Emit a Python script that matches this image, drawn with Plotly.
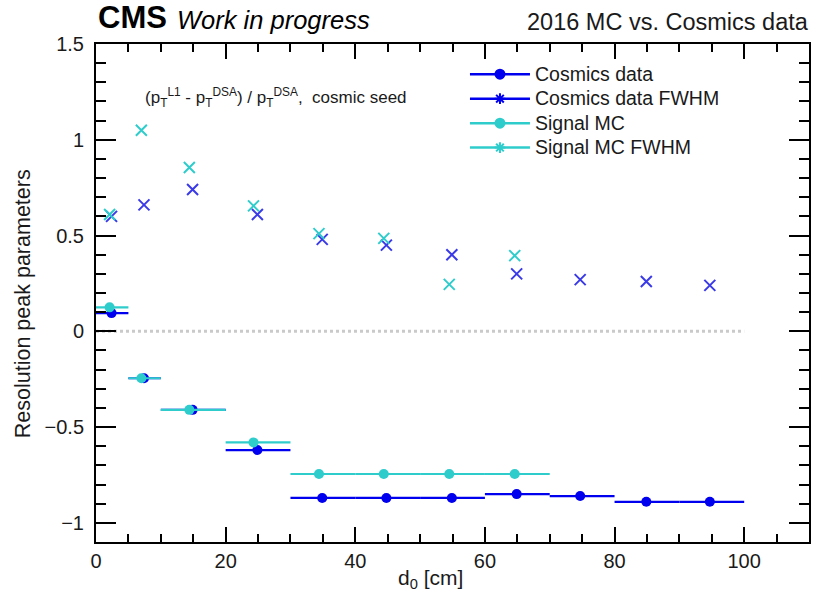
import plotly.graph_objects as go

# ---------------- data ----------------
cosmic_x = [2.4, 7.4, 14.9, 24.9, 34.9, 44.8, 54.9, 64.9, 74.7, 84.9, 94.7]
cosmic_lo = [0, 5, 10, 20, 30, 40, 50, 60, 70, 80, 90]
cosmic_hi = [5, 10, 20, 30, 40, 50, 60, 70, 80, 90, 100]
cosmic_peak = [0.095, -0.245, -0.41, -0.62, -0.87, -0.87, -0.87, -0.85, -0.86, -0.89, -0.89]
cosmic_fwhm = [0.60, 0.66, 0.74, 0.61, 0.48, 0.45, 0.40, 0.30, 0.27, 0.26, 0.24]

signal_x = [2.1, 7.0, 14.4, 24.3, 34.4, 44.4, 54.5, 64.6]
signal_lo = [0, 5, 10, 20, 30, 40, 50, 60]
signal_hi = [5, 10, 20, 30, 40, 50, 60, 70]
signal_peak = [0.125, -0.245, -0.41, -0.58, -0.745, -0.745, -0.745, -0.745]
signal_fwhm = [0.61, 1.05, 0.855, 0.655, 0.51, 0.485, 0.245, 0.395]

ref_line_x = [0, 100]
ref_line_y = [0, 0]

BLUE = "#0000ee"
BLUE_X = "#3a3ae8"
CYAN = "#2fcccc"
FONT = "Liberation Sans, Arial, sans-serif"
TXT = "#1a1a1a"

fig = go.Figure()

# zero reference line
fig.add_trace(go.Scatter(x=ref_line_x, y=ref_line_y, mode="lines",
                         line=dict(color="#cacaca", width=3, dash="dot"),
                         showlegend=False, hoverinfo="skip"))

def add_peak(xs, lo, hi, ys, color):
    fig.add_trace(go.Scatter(
        x=xs, y=ys, mode="markers",
        marker=dict(symbol="circle", size=10, color=color),
        error_x=dict(type="data", symmetric=False,
                     array=[h - x for h, x in zip(hi, xs)],
                     arrayminus=[x - l for l, x in zip(lo, xs)],
                     color=color, thickness=2.2, width=0),
        showlegend=False))

def add_fwhm(xs, ys, color):
    fig.add_trace(go.Scatter(
        x=xs, y=ys, mode="markers",
        marker=dict(symbol="x-thin-open", size=11, color=color,
                    line=dict(color=color, width=2)),
        showlegend=False))

add_fwhm(cosmic_x, cosmic_fwhm, BLUE_X)
add_fwhm(signal_x, signal_fwhm, CYAN)
add_peak(cosmic_x, cosmic_lo, cosmic_hi, cosmic_peak, BLUE)
add_peak(signal_x, signal_lo, signal_hi, signal_peak, CYAN)

# legend proxies
legend_items = [
    ("Cosmics data", BLUE, "circle"),
    ("Cosmics data FWHM", BLUE, "asterisk-open"),
    ("Signal MC", CYAN, "circle"),
    ("Signal MC FWHM", CYAN, "asterisk-open"),
]
for name, col, sym in legend_items:
    fig.add_trace(go.Scatter(
        x=[None], y=[None], mode="lines+markers",
        name='<span style="font-size:19.5px">' + name + '</span>',
        line=dict(color=col, width=2.5),
        marker=dict(symbol=sym, size=9, color=col, line=dict(color=col, width=2))))

axis_common = dict(showgrid=False, zeroline=False, showline=True, linecolor="black",
                   linewidth=2, mirror="ticks", ticks="inside", tickcolor="black",
                   tickwidth=2, tickfont=dict(family=FONT, size=20, color=TXT))

fig.update_xaxes(range=[0, 110], tick0=0, dtick=20, ticklen=15,
                 minor=dict(dtick=5, ticklen=8, ticks="inside", tickwidth=2, tickcolor="black"),
                 **axis_common)
fig.update_yaxes(range=[-1.1, 1.5], tick0=0, dtick=0.5, ticklen=20,
                 ticklabelstandoff=6,
                 minor=dict(dtick=0.1, ticklen=10, ticks="inside", tickwidth=2, tickcolor="black"),
                 **axis_common)

annotations = [
    dict(text="<b>CMS</b>", x=0.0, y=1.054, xref="paper", yref="paper",
         xanchor="left", yanchor="middle", showarrow=False,
         font=dict(family=FONT, size=31, color="black")),
    dict(text="<i>Work in progress</i>", x=(175 - 96) / 715, y=1.048, xref="paper", yref="paper",
         xanchor="left", yanchor="middle", showarrow=False,
         font=dict(family=FONT, size=25.5, color="black")),
    dict(text="2016 MC vs. Cosmics data", x=1.0, y=1.044, xref="paper", yref="paper",
         xanchor="right", yanchor="middle", showarrow=False, xshift=2,
         font=dict(family=FONT, size=23.5, color=TXT)),
    dict(text="(p<sub>T</sub><sup>L1</sup> - p<sub>T</sub><sup>DSA</sup>) / p<sub>T</sub><sup>DSA</sup>,  cosmic seed",
         x=(143 - 96) / 715, y=1 - (97 - 44) / 498, xref="paper", yref="paper",
         xanchor="left", yanchor="middle", showarrow=False,
         font=dict(family=FONT, size=17, color=TXT)),
    dict(text="d<sub>0</sub> [cm]", x=(431 - 96) / 715, y=-(579 - 542) / 498,
         xref="paper", yref="paper", xanchor="center", yanchor="middle", showarrow=False,
         font=dict(family=FONT, size=21, color=TXT)),
    dict(text="Resolution peak parameters", x=(23 - 96) / 715, y=1 - (304 - 44) / 498,
         xref="paper", yref="paper", xanchor="center", yanchor="middle", showarrow=False,
         textangle=-90, font=dict(family=FONT, size=21.5, color=TXT)),
]

fig.update_layout(
    width=814, height=602,
    margin=dict(l=96, r=3, t=44, b=60),
    plot_bgcolor="white", paper_bgcolor="white",
    font=dict(family=FONT),
    annotations=annotations,
    legend=dict(x=(466 - 96) / 715, y=1 - (57 - 44) / 498, xanchor="left", yanchor="top",
                bgcolor="rgba(0,0,0,0)", font=dict(family=FONT, size=16.5, color=TXT),
                itemwidth=60, tracegroupgap=0),
)

fig.write_html("out.html")
